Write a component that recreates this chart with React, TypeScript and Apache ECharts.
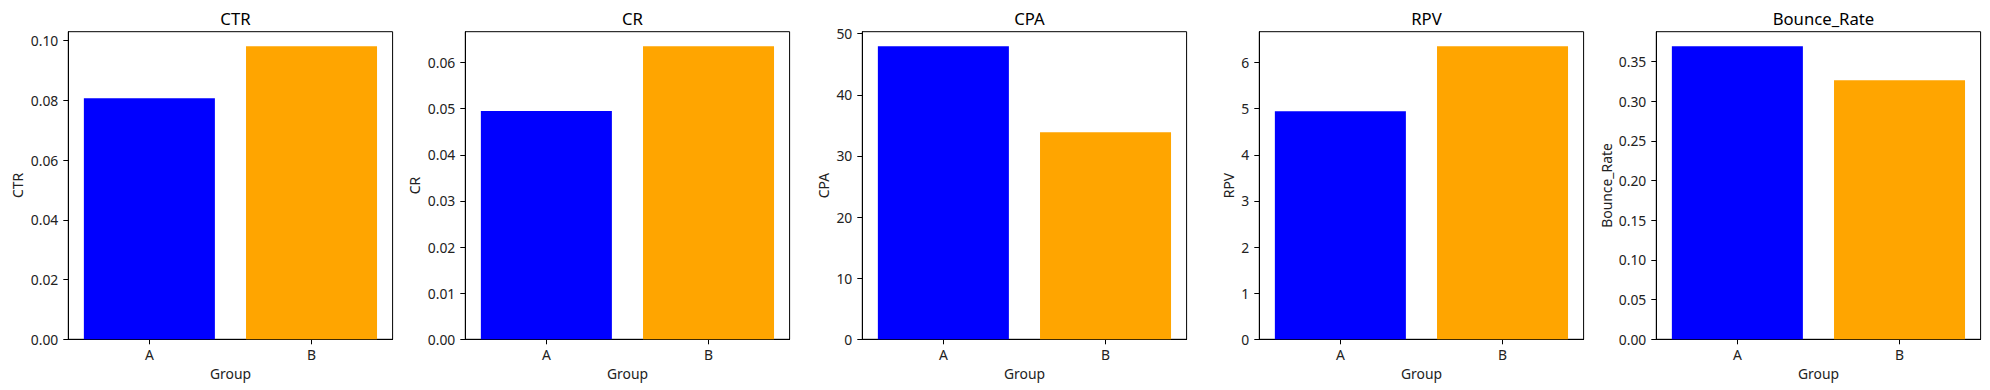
import React, { useEffect, useRef } from "react";
import * as echarts from "echarts";

const groups = ["A", "B"];
const metrics = ["CTR", "CR", "CPA", "RPV", "Bounce_Rate"];
const ctrValues = [0.0807, 0.0981];
const crValues = [0.0495, 0.0635];
const cpaValues = [47.93, 33.87];
const rpvValues = [4.945, 6.353];
const bounceValues = [0.3689, 0.3261];

const ctrTicks = [0, 0.02, 0.04, 0.06, 0.08, 0.1];
const crTicks = [0, 0.01, 0.02, 0.03, 0.04, 0.05, 0.06];
const cpaTicks = [0, 10, 20, 30, 40, 50];
const rpvTicks = [0, 1, 2, 3, 4, 5, 6];
const bounceTicks = [0, 0.05, 0.1, 0.15, 0.2, 0.25, 0.3, 0.35];

const tickDecimals = [2, 2, 0, 0, 2];
const barColors = ["#0000ff", "#ffa500"];

export default function App() {
  const ref = useRef<HTMLDivElement>(null);
  useEffect(() => {
    if (!ref.current) return;
    const chart = echarts.init(ref.current, null, { renderer: "svg" });
    const allValues = [ctrValues, crValues, cpaValues, rpvValues, bounceValues];
    const allTicks = [ctrTicks, crTicks, cpaTicks, rpvTicks, bounceTicks];
    const font = "Noto Sans";
    const lefts = [68.3, 465.3, 862.3, 1259.3, 1656.3];
    const nameGaps = [44, 44, 31.6, 23.6, 43.3];
    const W = 324.3;
    const top = 31.7;
    const H = 307.6;

    const grid = lefts.map((l) => ({
      left: l,
      top,
      width: W,
      height: H,
      show: true,
      borderColor: "#000",
      borderWidth: 1,
      backgroundColor: "transparent",
    }));
    const title = metrics.map((m, i) => ({
      text: m,
      left: lefts[i] + W / 2,
      top: 5,
      textAlign: "center",
      textStyle: { fontFamily: font, fontSize: 16.7, fontWeight: "normal", color: "#000" },
    }));
    const xAxis = metrics.map((_, i) => ({
      type: "category",
      gridIndex: i,
      data: groups,
      name: "Group",
      nameLocation: "middle",
      nameGap: 25,
      nameTextStyle: { fontFamily: font, fontSize: 13.9, color: "#222" },
      axisLine: { show: true, lineStyle: { color: "#000", width: 1 } },
      axisTick: { show: true, alignWithLabel: true, inside: false, length: 5, lineStyle: { color: "#000", width: 1 } },
      axisLabel: { fontFamily: font, fontSize: 13.9, color: "#222", margin: 8 },
      splitLine: { show: false },
    }));
    const yAxis = metrics.map((m, i) => ({
      type: "value",
      gridIndex: i,
      min: 0,
      max: Math.max(...allValues[i]) * 1.05,
      name: m,
      nameLocation: "middle",
      nameRotate: 90,
      nameGap: nameGaps[i],
      nameTextStyle: { fontFamily: font, fontSize: 13.9, color: "#222" },
      axisLine: { show: true, lineStyle: { color: "#000", width: 1 } },
      axisTick: {
        show: true,
        inside: false,
        length: 5,
        customValues: allTicks[i],
        lineStyle: { color: "#000", width: 1 },
      },
      axisLabel: {
        fontFamily: font,
        fontSize: 13.9,
        color: "#222",
        margin: 10,
        customValues: allTicks[i],
        formatter: (v: number) => v.toFixed(tickDecimals[i]),
      },
      splitLine: { show: false },
    }));
    const series = metrics.map((m, i) => ({
      type: "bar",
      name: m,
      xAxisIndex: i,
      yAxisIndex: i,
      barWidth: "80.8%",
      data: allValues[i].map((v, j) => ({ value: v, itemStyle: { color: barColors[j] } })),
    }));

    chart.setOption({
      animation: false,
      backgroundColor: "#fff",
      title,
      grid,
      xAxis,
      yAxis,
      series,
    });
    return () => chart.dispose();
  }, []);
  return (
    <div
      ref={ref}
      style={{ position: "fixed", left: 0, top: 0, width: 1990, height: 390 }}
    />
  );
}
